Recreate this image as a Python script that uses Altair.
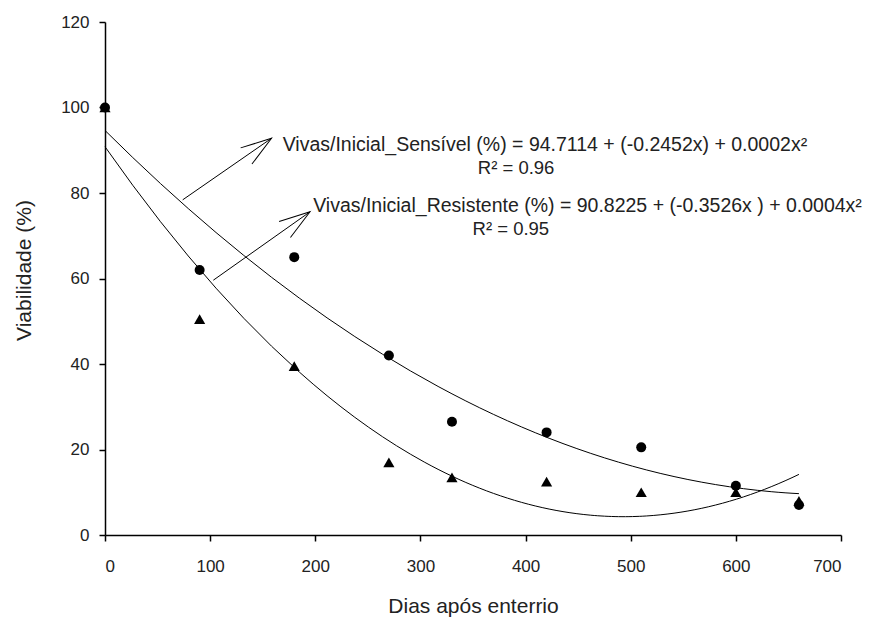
import altair as alt
import pandas as pd

# ---- data ----
days = [0, 90, 180, 270, 330, 420, 510, 600, 660]
sensivel = [100, 62, 65, 42, 26.5, 24, 20.5, 11.5, 7]
resistente = [100, 50.5, 39.5, 17, 13.5, 12.5, 10, 10, 8]

x_ticks = [0, 100, 200, 300, 400, 500, 600, 700]
y_ticks = [0, 20, 40, 60, 80, 100, 120]

eq_text = [
    "Vivas/Inicial_Sensível (%) = 94.7114 + (-0.2452x) + 0.0002x²",
    "Vivas/Inicial_Resistente (%) = 90.8225 + (-0.3526x ) + 0.0004x²",
]
eq_x = [169, 198]
eq_y = [91.2, 77]

r2_text = ["R² = 0.96", "R² = 0.95"]
r2_x = [391, 386]
r2_y = [85.9, 71.5]

arrow_x = [73.9, 103.0]
arrow_y = [78.4, 59.6]
arrow_x2 = [158.4, 195.0]
arrow_y2 = [92.8, 75.6]
arrow_angle = [325, 325]

FONT = "Liberation Sans"

df = pd.DataFrame({
    "day": days + days,
    "value": sensivel + resistente,
    "series": ["Sensível"] * len(days) + ["Resistente"] * len(days),
})

xs = alt.Scale(domain=[0, 700], nice=False, zero=True)
ys = alt.Scale(domain=[0, 120], nice=False, zero=True)

base = alt.Chart(df)

points = base.mark_point(filled=True, opacity=1, color="black").encode(
    x=alt.X("day:Q", scale=xs,
            axis=alt.Axis(values=x_ticks, title="Dias após enterrio",
                          titleY=71, titleBaseline="middle")),
    y=alt.Y("value:Q", scale=ys,
            axis=alt.Axis(values=y_ticks, title="Viabilidade (%)",
                          titleX=-81, titleY=248, titleAngle=270,
                          titleBaseline="middle", titleAlign="center")),
    shape=alt.Shape("series:N",
                    scale=alt.Scale(domain=["Sensível", "Resistente"],
                                    range=["circle", "triangle-up"]),
                    legend=None),
    size=alt.Size("series:N",
                  scale=alt.Scale(domain=["Sensível", "Resistente"],
                                  range=[100, 125]),
                  legend=None),
)

curves = base.transform_regression(
    "day", "value", method="poly", order=2, groupby=["series"]
).mark_line(color="black", strokeWidth=1).encode(
    x=alt.X("day:Q", scale=xs),
    y=alt.Y("value:Q", scale=ys),
    detail="series:N",
)

eq_df = pd.DataFrame({"t": eq_text, "x": eq_x, "y": eq_y})
r2_df = pd.DataFrame({"t": r2_text, "x": r2_x, "y": r2_y})
ar_df = pd.DataFrame({"x": arrow_x, "y": arrow_y, "x2": arrow_x2,
                      "y2": arrow_y2, "a": arrow_angle})

eqs = alt.Chart(eq_df).mark_text(
    align="left", baseline="middle", font=FONT, fontSize=19.5, color="#222"
).encode(x=alt.X("x:Q", scale=xs), y=alt.Y("y:Q", scale=ys), text="t:N")

r2s = alt.Chart(r2_df).mark_text(
    align="center", baseline="middle", font=FONT, fontSize=18.5, color="#222"
).encode(x=alt.X("x:Q", scale=xs), y=alt.Y("y:Q", scale=ys), text="t:N")

shafts = alt.Chart(ar_df).mark_rule(color="black", strokeWidth=1).encode(
    x=alt.X("x:Q", scale=xs), y=alt.Y("y:Q", scale=ys),
    x2="x2:Q", y2="y2:Q",
)

heads = alt.Chart(ar_df).mark_point(
    shape="M-1,-0.32L0,0L-1,0.32", filled=False, color="black",
    strokeWidth=1, size=3800, opacity=1,
).encode(
    x=alt.X("x2:Q", scale=xs), y=alt.Y("y2:Q", scale=ys),
    angle=alt.Angle("a:Q", scale=None),
)

chart = alt.layer(curves, points, shafts, heads, eqs, r2s).properties(
    width=736, height=513,
    autosize=alt.AutoSizeParams(type="none"),
    padding={"left": 105, "top": 22, "right": 33, "bottom": 86},
    background="white",
).configure_view(stroke=None).configure_axis(
    grid=False,
    domainColor="black", domainWidth=1.5,
    tickColor="black", tickWidth=1.5, tickSize=6,
    labelFont=FONT, labelFontSize=17, labelColor="#222",
    titleFont=FONT, titleFontSize=21, titleFontWeight="normal",
    titleColor="#222",
).configure_axisX(labelPadding=17, labelAngle=0).configure_axisY(labelPadding=10)

chart.save("out.html", embed_options={"renderer": "svg", "actions": False})
